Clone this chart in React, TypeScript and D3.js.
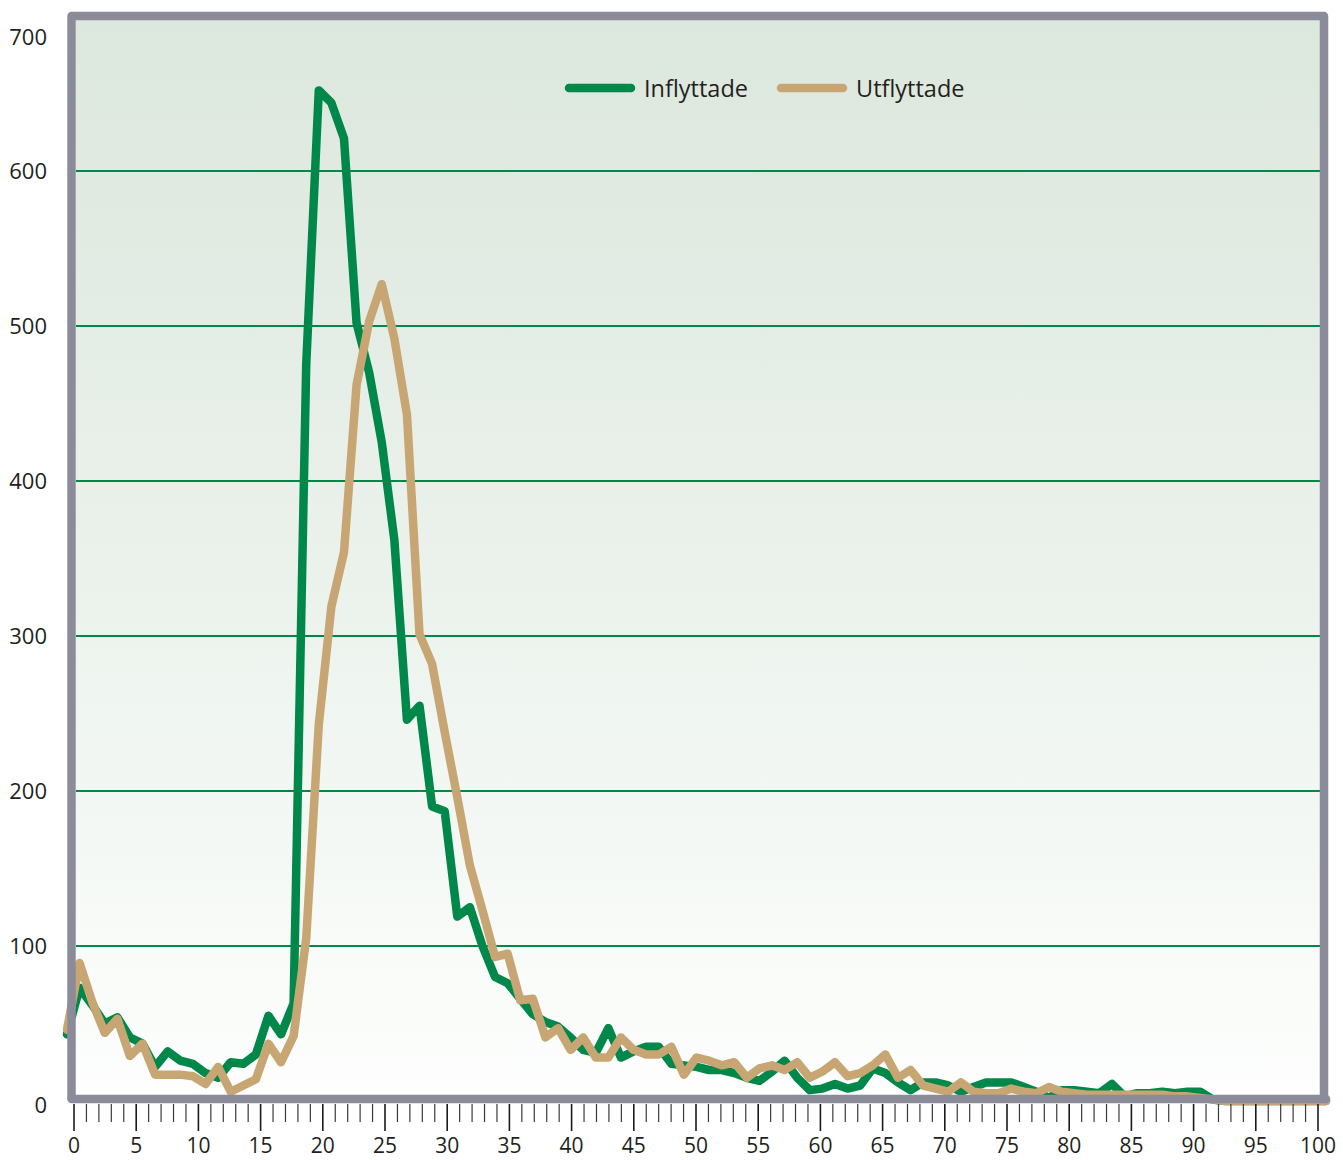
import React from 'react';
import * as d3 from 'd3';

// Ages 0..100 (categories)
const ages: number[] = d3.range(0, 101);

const inflyttade: number[] = [
  43, 73, 62, 50, 54, 41, 37, 22, 32, 26,
  24, 18, 15, 25, 24, 30, 55, 43, 63, 475,
  652, 644, 621, 502, 470, 425, 362, 246, 255, 190,
  187, 119, 125, 100, 80, 76, 66, 56, 51, 48,
  41, 33, 31, 47, 28, 32, 35, 35, 24, 23,
  22, 20, 20, 18, 15, 13, 19, 26, 15, 7,
  8, 11, 8, 10, 21, 18, 12, 7, 12, 12,
  10, 6, 9, 12, 12, 12, 9, 6, 2, 7,
  7, 6, 5, 11, 3, 5, 5, 6, 5, 6,
  6, 1, 0, 0, 0, 0, 0, 0, 0, 0,
  0,
];

const utflyttade: number[] = [
  46, 89, 64, 44, 53, 29, 37, 17, 17, 17,
  16, 11, 22, 6, 10, 14, 37, 25, 42, 105,
  243, 319, 354, 462, 503, 527, 492, 443, 301, 282,
  238, 196, 152, 123, 93, 95, 65, 66, 41, 47,
  33, 41, 28, 28, 41, 33, 30, 30, 35, 17,
  28, 26, 23, 25, 15, 21, 23, 20, 25, 15,
  19, 25, 16, 18, 23, 30, 15, 20, 10, 8,
  6, 12, 6, 5, 5, 8, 6, 5, 9, 6,
  5, 4, 4, 4, 4, 4, 4, 4, 3, 3,
  2, 1, 0, 0, 0, 0, 0, 0, 0, 0,
  0,
];

const seriesNames: string[] = ['Inflyttade', 'Utflyttade'];
const seriesColors: string[] = ['#00884a', '#c7a673'];
const yTicks: number[] = [0, 100, 200, 300, 400, 500, 600, 700];
const gridValues: number[] = [100, 200, 300, 400, 500, 600];
const xMajorTicks: number[] = d3.range(0, 101, 5);
const xMinorTicks: number[] = d3.range(0, 101, 1).filter((v) => v % 5 !== 0);

const FONT = '"Open Sans", "Noto Sans", sans-serif';
const TEXT = '#231f20';
const FRAME = '#8c8b99';

export default function App() {
  const W = 1343;
  const H = 1160;

  const x = d3.scaleLinear().domain([0, 100]).range([74, 1318]);
  const xPt = d3.scaleLinear().domain([0, 100]).range([67, 1326]);
  const y = d3.scaleLinear().domain([0, 700]).range([1101, 16]);

  const plotLeft = 76;
  const plotRight = 1320;
  const plotTop = 20;
  const plotBottom = 1095;

  const lineGen = d3
    .line<number>()
    .x((_, i) => xPt(ages[i]))
    .y((d) => y(d));

  const series = [inflyttade, utflyttade];

  const frameLeft = 71.5;
  const frameTop = 16;
  const frameRight = 1324;
  const frameBottom = 1099;

  return (
    <svg
      width={W}
      height={H}
      style={{ position: 'absolute', left: 0, top: 0, background: '#fff' }}
    >
      <defs>
        <linearGradient id="bg" x1="0" y1="0" x2="0" y2="1">
          <stop offset="0%" stopColor="#dce7dd" />
          <stop offset="55%" stopColor="#ecf3ed" />
          <stop offset="100%" stopColor="#fdfefd" />
        </linearGradient>
      </defs>

      <rect
        x={plotLeft}
        y={plotTop}
        width={plotRight - plotLeft}
        height={plotBottom - plotTop}
        fill="url(#bg)"
      />

      {gridValues.map((v) => (
        <line
          key={'g' + v}
          x1={plotLeft}
          x2={plotRight}
          y1={y(v)}
          y2={y(v)}
          stroke="#00884a"
          strokeWidth={2}
        />
      ))}

      {series.map((s, si) => (
        <path
          key={'s' + si}
          d={lineGen(s) || ''}
          fill="none"
          stroke={seriesColors[si]}
          strokeWidth={8.5}
          strokeLinejoin="round"
          strokeLinecap="round"
        />
      ))}

      {/* frame */}
      <path
        d={`M${frameLeft},${frameBottom} V${frameTop} H${frameRight} V${frameBottom}`}
        fill="none"
        stroke={FRAME}
        strokeWidth={8.5}
        strokeLinejoin="round"
      />
      <line
        x1={frameLeft}
        x2={1326}
        y1={frameBottom}
        y2={frameBottom}
        stroke={FRAME}
        strokeWidth={8.5}
        strokeLinecap="round"
      />

      {/* x ticks */}
      {xMinorTicks.map((v) => (
        <line
          key={'mt' + v}
          x1={x(v)}
          x2={x(v)}
          y1={1104}
          y2={1122}
          stroke="#3a3a3a"
          strokeWidth={1.2}
        />
      ))}
      {xMajorTicks.map((v) => (
        <line
          key={'Mt' + v}
          x1={x(v)}
          x2={x(v)}
          y1={1104}
          y2={1131}
          stroke="#1a1a1a"
          strokeWidth={1.6}
        />
      ))}
      {xMajorTicks.map((v) => (
        <text
          key={'xl' + v}
          x={x(v)}
          y={1153}
          textAnchor="middle"
          fontFamily={FONT}
          fontSize={21}
          fill={TEXT}
        >
          {v}
        </text>
      ))}

      {/* y labels */}
      {yTicks.map((v) => (
        <text
          key={'yl' + v}
          x={47}
          y={Math.max(y(v), 37) + (v === 0 ? 4 : 0)}
          dy="0.36em"
          textAnchor="end"
          fontFamily={FONT}
          fontSize={22}
          fill={TEXT}
        >
          {v}
        </text>
      ))}

      {/* legend */}
      {seriesNames.map((name, i) => {
        const lx = [569, 781][i];
        return (
          <g key={'lg' + i}>
            <line
              x1={lx}
              x2={lx + 62}
              y1={88}
              y2={88}
              stroke={seriesColors[i]}
              strokeWidth={8.5}
              strokeLinecap="round"
            />
            <text
              x={lx + 75}
              y={97}
              fontFamily={FONT}
              fontSize={23.5}
              fill={TEXT}
            >
              {name}
            </text>
          </g>
        );
      })}
    </svg>
  );
}
